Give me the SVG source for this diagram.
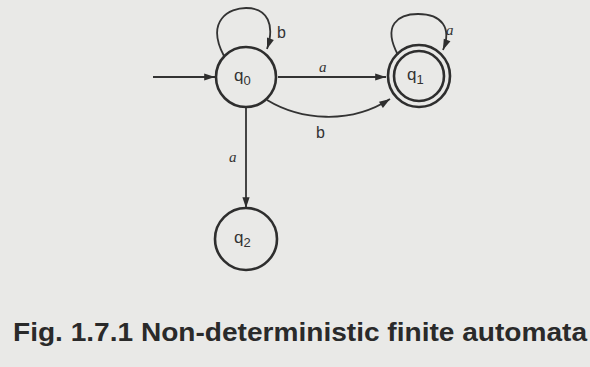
<svg xmlns="http://www.w3.org/2000/svg" width="590" height="367" viewBox="0 0 590 367">
<style>
.st{fill:none;stroke:#2e2e2e;stroke-width:2.6}
.ed{fill:none;stroke:#333;stroke-width:1.8}
.lb{font-family:"Liberation Sans",Arial,sans-serif;font-size:17px;fill:#333}
.sub{font-size:13px}
.el{font-family:"Liberation Sans",Arial,sans-serif;font-size:16px;fill:#333}
.it{font-family:"Liberation Serif","Times New Roman",serif;font-style:italic;font-size:15px;fill:#333}
.cap{font-family:"Liberation Sans",Arial,sans-serif;font-weight:bold;font-size:25px;fill:#2a2a2a}
</style>
<defs>
<marker id="ah" viewBox="0 0 12 10" refX="12" refY="5" markerWidth="12" markerHeight="9" markerUnits="userSpaceOnUse" orient="auto">
<path d="M0,1 L12,5 L0,9 Z" fill="#2e2e2e"/>
</marker>
</defs>
<rect width="590" height="367" fill="#e9e9e7"/>
<g id="connectors">
<path class="ed" d="M153,77 L215,77" marker-end="url(#ah)"/>
<path class="ed" d="M224,56 C205,20 230,8 246,8 C268,8 275,25 267,49" marker-end="url(#ah)"/>
<path class="ed" d="M278,77 L386,77" marker-end="url(#ah)"/>
<path class="ed" d="M267,100 C300,120 350,125 390,99" marker-end="url(#ah)"/>
<path class="ed" d="M246,108 L246,208" marker-end="url(#ah)"/>
<path class="ed" d="M398,55 C382,25 398,14 418,14 C442,14 452,28 443,50" marker-end="url(#ah)"/>
<text class="el" x="277" y="38">b</text>
<text class="it" x="319" y="72">a</text>
<text class="el" x="316" y="138">b</text>
<text class="it" x="229" y="162">a</text>
<text class="it" x="446" y="35">a</text>
</g>
<g id="q0">
<circle class="st" cx="246" cy="77" r="30"/>
<text class="lb" x="234" y="81">q<tspan class="sub" dy="4">0</tspan></text>
</g>
<g id="q1">
<circle class="st" cx="419" cy="76" r="31"/>
<circle class="st" cx="419" cy="76" r="25" stroke-width="2"/>
<text class="lb" x="407" y="80">q<tspan class="sub" dy="4">1</tspan></text>
</g>
<g id="q2">
<circle class="st" cx="246" cy="239" r="31"/>
<text class="lb" x="234" y="243">q<tspan class="sub" dy="4">2</tspan></text>
</g>
<text class="cap" x="13" y="341" textLength="574" lengthAdjust="spacingAndGlyphs">Fig. 1.7.1 Non-deterministic finite automata</text>
</svg>
